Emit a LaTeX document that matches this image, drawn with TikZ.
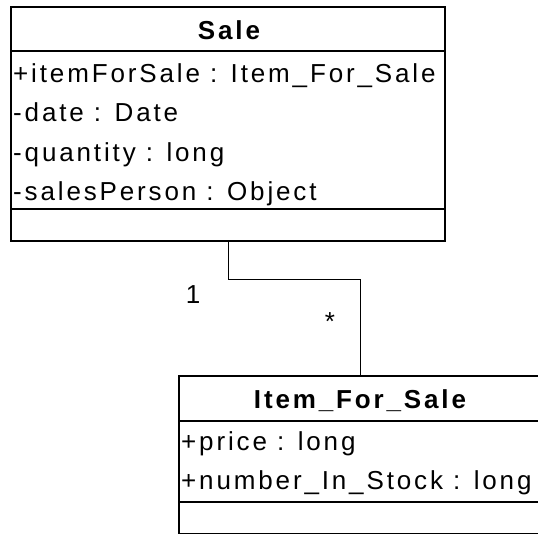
\documentclass[tikz,border=0pt]{standalone}
\usepackage{fontspec}
\setmainfont{Liberation Sans}[LetterSpace=11]
\begin{document}
\begin{tikzpicture}[x=1pt,y=-1pt,
  classbox/.style={draw=black, line width=1.7pt, fill=white, inner sep=0pt, rectangle},
  divider/.style={draw=black, line width=1.7pt},
  assoc/.style={draw=black, line width=1pt},
  attr/.style={inner sep=0pt, anchor=base west, font=\fontsize{26}{30}\selectfont},
  title/.style={inner sep=0pt, anchor=base, font=\fontsize{26}{30}\selectfont\bfseries},
  mult/.style={inner sep=0pt, font=\fontsize{26}{30}\selectfont}]
\useasboundingbox (0,0) rectangle (538,533);
\clip (0,0) rectangle (538,533);

% class Sale
\node[classbox, minimum width=434pt, minimum height=234pt] (sale) at (228,124) {};
\draw[divider] (11,51) -- (445,51);
\draw[divider] (11,209) -- (445,209);
\node[title] (saleName) at (229,39) {Sale};
\node[attr] (sa1) at (13,82) {+itemForSale : Item\_For\_Sale};
\node[attr] (sa2) at (13,121.5) {-date : Date};
\node[attr] (sa3) at (13,161) {-quantity : long};
\node[attr] (sa4) at (13,200.5) {-salesPerson : Object};

% class Item_For_Sale
\node[classbox, minimum width=360pt, minimum height=158pt] (item) at (359,455) {};
\draw[divider] (179,421) -- (539,421);
\draw[divider] (179,502) -- (539,502);
\node[title] (itemName) at (360,408) {Item\_For\_Sale};
\node[attr] (ia1) at (181,450) {+price : long};
\node[attr] (ia2) at (181,489.5) {+number\_In\_Stock : long};

% association
\coordinate (k1) at (228,279);
\coordinate (k2) at (360,279);
\draw[assoc] (sale.south) -- (k1) -- (k2) -- (k2 |- item.north);
\node[mult] (m1) at (193,295) {1};
\node[mult] (m2) at (330,322) {*};
\end{tikzpicture}
\end{document}
